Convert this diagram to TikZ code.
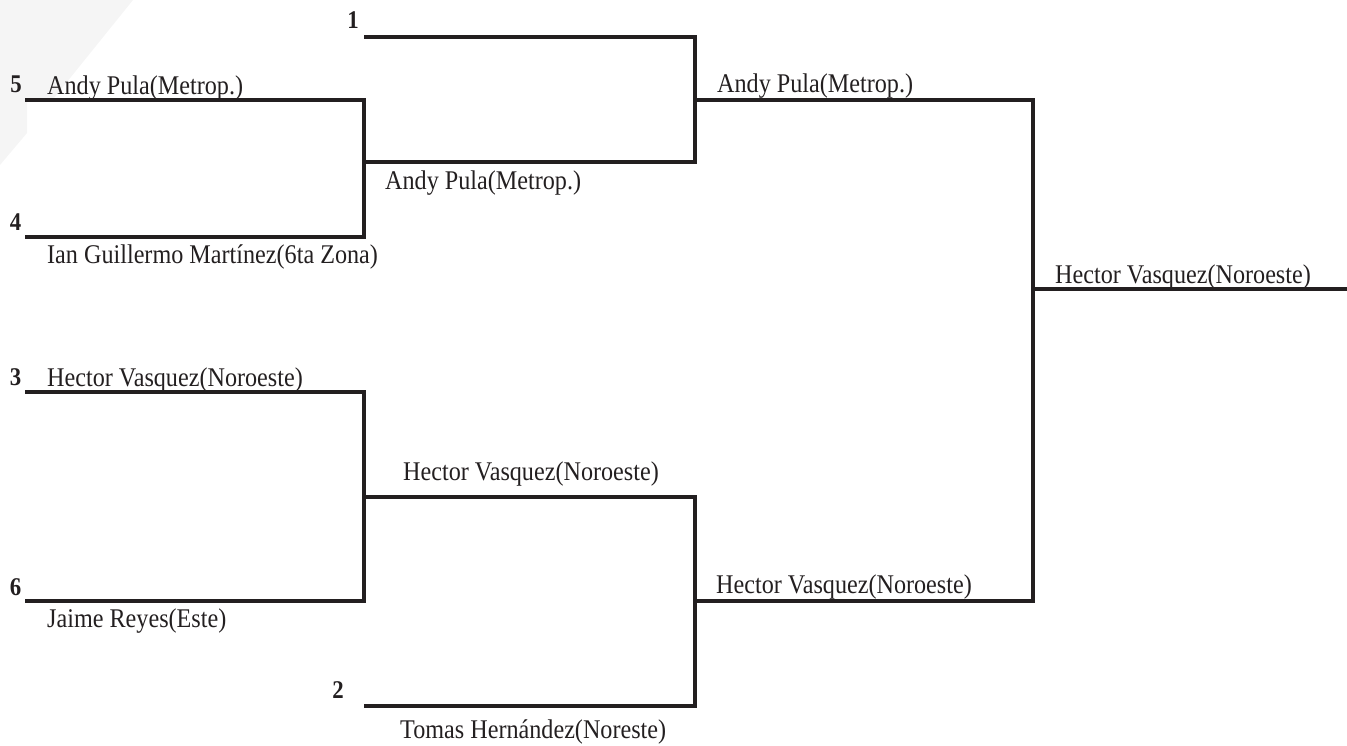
\documentclass[tikz,border=0pt]{standalone}
\usepackage{fontspec}
\setmainfont{Liberation Serif}[FakeStretch=0.895]
\definecolor{ink}{HTML}{231F20}
\definecolor{bgtint}{HTML}{F5F5F5}
\tikzset{
  player/.style={anchor=base west, inner sep=0pt, text=ink, font=\fontsize{27}{30}\selectfont},
  seed/.style={anchor=base, inner sep=0pt, text=ink, font=\fontsize{25.5}{28}\selectfont\bfseries},
  bracket/.style={draw=ink, line width=3.3pt, line join=miter, line cap=rect}
}
\begin{document}
\begin{tikzpicture}[x=1pt,y=-1pt]
\useasboundingbox (0,0) rectangle (1347,745);
\fill[bgtint] (0,0) -- (133,0) -- (52.4,100) -- (27,100) -- (27,133) -- (0,165) -- cycle;

% coordinates
\coordinate (s1a) at (366,37);  \coordinate (s1b) at (695,37);
\coordinate (s5a) at (27,100);  \coordinate (s5b) at (364,100);
\coordinate (s4a) at (27,237);  \coordinate (s4b) at (364,237);
\coordinate (q1a) at (364,162); \coordinate (q1b) at (695,162);
\coordinate (f1a) at (695,100); \coordinate (f1b) at (1033,100);
\coordinate (s3a) at (27,392);  \coordinate (s3b) at (364,392);
\coordinate (s6a) at (27,601);  \coordinate (s6b) at (364,601);
\coordinate (q2a) at (364,497); \coordinate (q2b) at (695,497);
\coordinate (s2a) at (366,706); \coordinate (s2b) at (695,706);
\coordinate (f2a) at (695,601); \coordinate (f2b) at (1033,601);
\coordinate (wa) at (1033,289); \coordinate (wb) at (1347,289);

% brackets
\draw[bracket] (s5a) -- (s5b) -- (s4b) -- (s4a);
\draw[bracket] (q1a) -- (q1b);
\draw[bracket] (s1a) -- (s1b) -- (q1b);
\draw[bracket] (f1a) -- (f1b) -- (f2b) -- (f2a);
\draw[bracket] (s3a) -- (s3b) -- (s6b) -- (s6a);
\draw[bracket] (q2a) -- (q2b) -- (s2b) -- (s2a);
\draw[bracket] (wa) -- (wb);

% seeds
\node[seed] (n1) at (353,28) {1};
\node[seed] (n5) at (16,92) {5};
\node[seed] (n4) at (15.5,230) {4};
\node[seed] (n3) at (15.5,385) {3};
\node[seed] (n6) at (15.5,595) {6};
\node[seed] (n2) at (338,698) {2};

% names
\node[player] (t5) at (47,94) {Andy Pula(Metrop.)};
\node[player] (t4) at (47,263) {Ian Guillermo Martínez(6ta Zona)};
\node[player] (tq1) at (385,189) {Andy Pula(Metrop.)};
\node[player] (tf1) at (717,92) {Andy Pula(Metrop.)};
\node[player] (t3) at (47,386) {Hector Vasquez(Noroeste)};
\node[player] (t6) at (47,627) {Jaime Reyes(Este)};
\node[player] (tq2) at (403,480) {Hector Vasquez(Noroeste)};
\node[player] (tf2) at (716,593) {Hector Vasquez(Noroeste)};
\node[player] (t2) at (400,738) {Tomas Hernández(Noreste)};
\node[player] (tw) at (1055,283) {Hector Vasquez(Noroeste)};
\end{tikzpicture}
\end{document}
